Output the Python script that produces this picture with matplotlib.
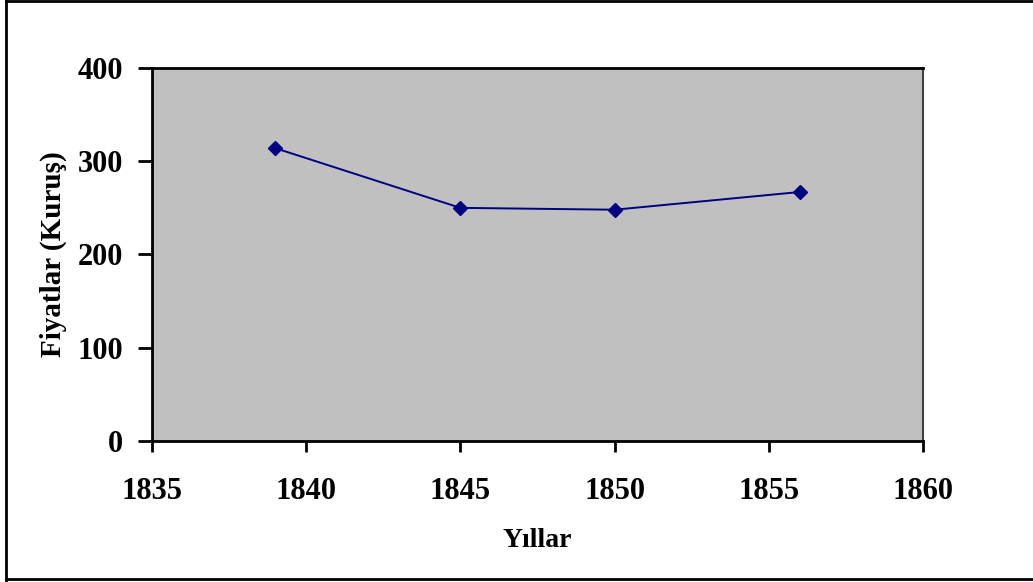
import matplotlib.pyplot as plt
from matplotlib.lines import Line2D

years = [1839, 1845, 1850, 1856]
prices = [314, 250, 248, 267]
x_ticks = [1835, 1840, 1845, 1850, 1855, 1860]
y_ticks = [0, 100, 200, 300, 400]

plt.rcParams['font.family'] = ['Liberation Serif', 'DejaVu Serif']
plt.rcParams['font.weight'] = 'bold'

fig = plt.figure(figsize=(10.33, 5.82), dpi=100)
ax = fig.add_axes([0.1471, 0.2423, 0.7464, 0.6409])
ax.set_facecolor('#c0c0c0')

ax.plot(years, prices, color='#000080', linewidth=1.4, marker='D', markersize=7)

ax.set_xlim(1835, 1860)
ax.set_ylim(0, 400)
ax.set_xticks(x_ticks)
ax.set_yticks(y_ticks)
ax.tick_params(axis='x', direction='out', length=8, width=2, labelsize=22, pad=18)
ax.tick_params(axis='y', direction='out', length=10, width=2, labelsize=22, pad=11)
for lbl in ax.get_xticklabels() + ax.get_yticklabels():
    lbl.set_fontweight('bold')

ax.spines['left'].set_linewidth(2)
ax.spines['bottom'].set_linewidth(2)
ax.spines['top'].set_linewidth(2)
ax.spines['right'].set_linewidth(1.5)
ax.spines['right'].set_color('#404040')

ax.set_xlabel('Yıllar', fontsize=20, fontweight='bold', labelpad=16)
ax.set_ylabel('Fiyatlar (Kuruş)', fontsize=21, fontweight='bold', labelpad=7)

# outer frame
fig.add_artist(Line2D([0.0058, 0.0058], [0.003, 0.999], transform=fig.transFigure, color='black', linewidth=2))
fig.add_artist(Line2D([0.0058, 1.0], [0.999, 0.999], transform=fig.transFigure, color='black', linewidth=2))
fig.add_artist(Line2D([0.0058, 1.0], [0.005, 0.005], transform=fig.transFigure, color='black', linewidth=2))

fig.savefig('out.png', dpi=100)
